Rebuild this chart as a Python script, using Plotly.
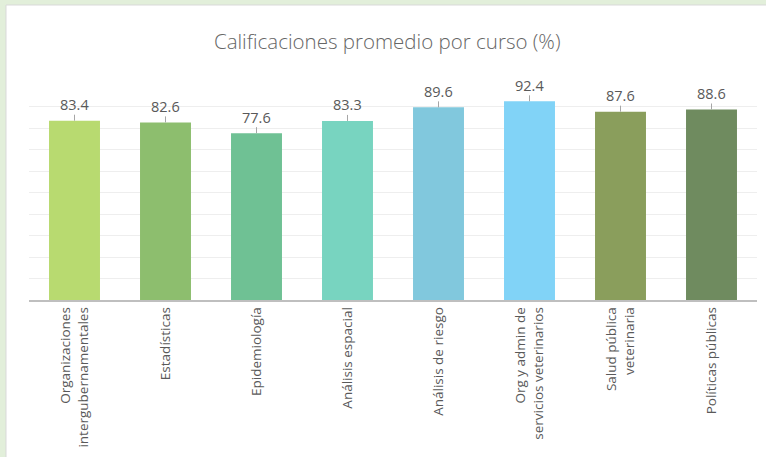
import plotly.graph_objects as go

categories = [
    "Organizaciones<br>intergubernamentales",
    "Estadísticas",
    "Epidemiología",
    "Análisis espacial",
    "Análisis de riesgo",
    "Org y admin de<br>servicios veterinarios",
    "Salud pública<br>veterinaria",
    "Políticas públicas",
]
values = [83.4, 82.6, 77.6, 83.3, 89.6, 92.4, 87.6, 88.6]
bar_colors = ["#b8da70", "#8dbe6e", "#6fc194", "#78d4c0",
              "#81c8dd", "#81d3f7", "#8a9e5c", "#6f8b5f"]

fig = go.Figure(go.Bar(
    x=categories, y=values, marker=dict(color=bar_colors, line=dict(width=0)),
    hoverinfo="x+y",
))

for c, v in zip(categories, values):
    fig.add_annotation(
        x=c, y=v, text=f"{v:.1f}", showarrow=True, arrowhead=0, arrowwidth=1,
        arrowcolor="#a6a6a6", ax=0, ay=-16, standoff=0, borderpad=0,
        font=dict(family="Open Sans", size=14.5, color="#595959"),
    )

fig.update_layout(
    width=766, height=457,
    margin=dict(l=29, r=9, t=85, b=157, autoexpand=False),
    paper_bgcolor="#e2efda",
    plot_bgcolor="rgba(0,0,0,0)",
    bargap=0.44,
    showlegend=False,
    title=dict(text="Calificaciones promedio por curso (%)", x=(397 - 29) / 728, xanchor="center",
               y=1 - 42 / 457, yanchor="middle",
               font=dict(family="Open Sans", size=20.5, color="#666666", weight=300)),
    font=dict(family="Open Sans", color="#595959"),
    xaxis=dict(tickangle=-90, tickfont=dict(size=13.5, color="#595959"),
               showline=True, linecolor="#bfbfbf", linewidth=1.5, ticks="",
               showgrid=False, automargin=False),
    yaxis=dict(range=[0, 100], dtick=10, showticklabels=False, showgrid=True,
               gridcolor="#eeeeee", gridwidth=1, zeroline=False, ticks="",
               automargin=False),
    shapes=[dict(type="rect", xref="paper", yref="paper",
                 x0=(6 - 29) / 728, x1=(770 - 29) / 728,
                 y0=(300 - 460) / 215, y1=(300 - 5) / 215,
                 fillcolor="white", line=dict(color="#d9d9d9", width=1),
                 layer="below")],
)

fig.write_html("out.html", config={"displayModeBar": False},
               post_script="document.body.style.margin='0';document.body.style.overflow='hidden';")
